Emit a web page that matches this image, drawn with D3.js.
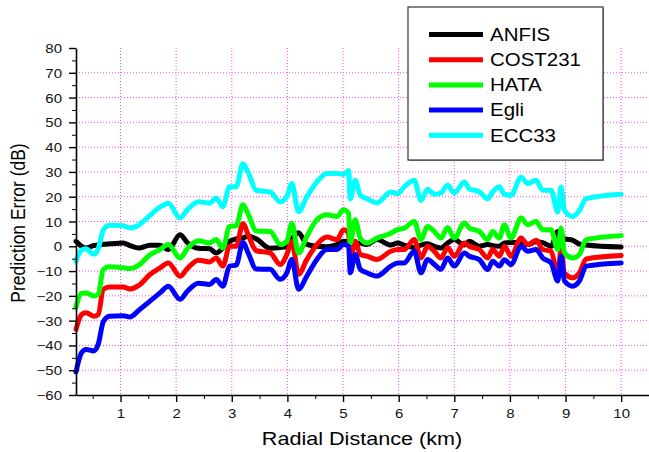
<!DOCTYPE html>
<html>
<head>
<meta charset="utf-8">
<script src="https://cdn.jsdelivr.net/npm/d3@7"></script>
<style>
  body { margin: 0; background: #fff; }
  text { font-family: 'Liberation Sans', Arial, sans-serif; }
</style>
</head>
<body>
<div id="chart"></div>
<script>
// Data (km, dB)
const distance = [0.2, 0.3, 0.38, 0.52, 0.6, 0.69, 0.8, 1.05, 1.17, 1.33, 1.53, 1.71, 1.86,
  2.07, 2.2, 2.4, 2.6, 2.72, 2.84, 2.96, 3.08, 3.2, 3.3, 3.44, 3.69, 3.87, 3.99,
  4.08, 4.2, 4.35, 4.53, 4.71, 4.89, 5.01, 5.1, 5.13, 5.22, 5.31, 5.43, 5.61, 5.86, 5.98,
  6.1, 6.28, 6.4, 6.52, 6.64, 6.76, 6.88, 7.0, 7.18, 7.27, 7.45, 7.6, 7.69, 7.81, 7.9,
  8.02, 8.2, 8.32, 8.47, 8.59, 8.74, 8.86, 8.92, 8.98, 9.13, 9.25, 9.37, 10.0]

const anfis = [2, 0, -0.7, 0.3, 0.5, 0.8, 1, 1.3, 0.3, -0.7, 0.4, 0.4, -1.3,
  4.7, 1.5, -0.8, -1, -2.7, -0.7, 2, 3, 3.4, 4, 3, -0.8, -0.5, 0,
  3, 5.5, 0.8, 0, -0.2, 0.7, 2, 1.5, 0, 0.5, 1.3, 0.7, 2.7, 0.5, 1.3,
  0.5, -0.5, 0.5, 1, 0, -0.7, 1.3, 2.7, 0.5, 2, 0, 0.7, 0.3, 0, 1.3,
  1.5, 1.5, 0.7, 1.8, 1.5, 0, 6, 4.7, 3, 2.4, 0.9, 0.5, -0.3]

const cost231 = [-33.5, -27.5, -26.8, -28.2, -27.5, -17.4, -16.4, -16.4, -17.2, -15.8, -11.4, -8.7, -6.7,
  -12.1, -9, -5.6, -6.3, -4.7, -8, 0, 0, 9.1, 4.3, -1.8, -2.7, -7.3, -3.3,
  2, -11.3, -5.3, 0.7, 3.7, 2.7, 6.7, 5.3, -5.3, 2, -3.3, -4, -5.3, -2, -1.3,
  -1.3, 2.7, -4.7, 0, -2, -4.7, -0.5, -4, 1.3, 0, -1.3, -4.7, -1.3, -4, 0,
  -4, 3.3, 0.7, 2.4, -1.3, -2, -11.4, -1.3, -10.7, -12.7, -10.7, -5.1, -3.7]

const hata = [-24.5, -19, -18.8, -20.1, -19.4, -9.4, -8.3, -8.7, -9, -7.6, -3.4, -1.3, 0.7,
  -4.7, -1, 2.2, 1.3, 2.7, -0.7, 8, 8.3, 16.8, 12.7, 6.2, 6, 0.7, 2,
  9.3, -2.7, 4, 10.7, 12.7, 12, 14.7, 13.3, 1.3, 10.7, 3.3, 1.3, 3.3, 5.3, 6.7,
  7.3, 10, 2.7, 8, 6, 3.3, 7.6, 3.3, 9.4, 7.4, 6, 2.7, 6, 3.3, 8.7,
  3.3, 11.4, 8.7, 10, 6.7, 6.7, -1.3, 7.4, -2.7, -4.7, -3.3, 2.7, 4.3]

const egli = [-50.7, -42.9, -41.6, -42.2, -39.5, -30.5, -28.2, -28, -28.5, -25.8, -22.1, -18.8, -16.1,
  -21.4, -18.2, -14.9, -15.4, -13.4, -16.1, -8, -7.6, 1.5, -3, -9.2, -9.3, -13.3, -10.7,
  -5.3, -17.3, -12, -5.3, -1.3, -1.3, 0.7, 0, -10.7, -3.3, -9.3, -10.7, -12, -8, -6.7,
  -6.7, -2, -10.7, -5.3, -7.3, -9.3, -4.7, -8, -2.7, -4, -5.4, -9.4, -6, -8, -5.4,
  -7.4, 0, -2, -1.3, -4.7, -6.7, -14, -4, -14, -16.1, -14, -8, -6.7]

const ecc33 = [-6, -1.5, -1, -3.2, -1, 6.5, 8.5, 8.3, 7.4, 8.6, 12.5, 15.8, 17.4,
  11.4, 14.7, 18, 17.4, 19.4, 16, 24, 24, 33.3, 29.5, 22.6, 21.9, 17.9, 20,
  25.3, 14, 20, 26, 29.4, 29.4, 29, 30.6, 19.2, 26.6, 20.6, 19.2, 17.5, 21.9, 21.2,
  24, 26.6, 18.5, 23, 21, 21.5, 24.6, 21.5, 25.9, 23.2, 22, 19.2, 21.9, 24, 21,
  20.6, 27.9, 25.3, 26.6, 22.6, 22.6, 13.8, 23.9, 14.5, 12, 14.5, 19.2, 21]

const seriesNames = ['ANFIS', 'COST231', 'HATA', 'Egli', 'ECC33']
const seriesValues = [anfis, cost231, hata, egli, ecc33]
const seriesColors = ['#000000', '#ff0000', '#00ff00', '#0000ff', '#00ffff']

const xTicks = [1, 2, 3, 4, 5, 6, 7, 8, 9, 10]
const yTicks = [-60, -50, -40, -30, -20, -10, 0, 10, 20, 30, 40, 50, 60, 70, 80]

// Dimensions
const width = 649
const height = 452
const plot = { left: 76, right: 649, top: 48, bottom: 395 }
const stretch = 1.2

const svg = d3.select('#chart')
  .append('svg')
  .attr('width', width)
  .attr('height', height)

// Scales
const xScale = d3.scaleLinear()
  .domain([0.2, 10.5])
  .range([plot.left, plot.right])

const yScale = d3.scaleLinear()
  .domain([-60, 80])
  .range([plot.bottom, plot.top])

// Grid
const grid = svg.append('g')
grid.selectAll('.vgrid')
  .data(xTicks)
  .join('line')
  .attr('x1', d => xScale(d))
  .attr('x2', d => xScale(d))
  .attr('y1', plot.top)
  .attr('y2', plot.bottom)
  .attr('stroke', '#ff44ff')
  .attr('stroke-width', 1)
  .attr('stroke-dasharray', '1,2')

grid.selectAll('.hgrid')
  .data(yTicks.filter(d => d > -60 && d < 80))
  .join('line')
  .attr('x1', plot.left)
  .attr('x2', plot.right)
  .attr('y1', d => yScale(d))
  .attr('y2', d => yScale(d))
  .attr('stroke', '#ff44ff')
  .attr('stroke-width', 1)
  .attr('stroke-dasharray', '1,2')

// Lines
const lineGenerator = d3.line()
  .x((d, i) => xScale(distance[i]))
  .y(d => yScale(d))
  .curve(d3.curveMonotoneX)

seriesValues.forEach((vals, i) => {
  svg.append('path')
    .datum(vals)
    .attr('d', lineGenerator)
    .attr('fill', 'none')
    .attr('stroke', seriesColors[i])
    .attr('stroke-width', 5)
    .attr('stroke-linejoin', 'round')
    .attr('stroke-linecap', 'round')
})

// Axes
const xMinor = d3.axisBottom(xScale)
  .tickValues(d3.range(0.5, 10.51, 1))
  .tickSize(4)
  .tickFormat('')
svg.append('g')
  .attr('transform', `translate(0,${plot.bottom})`)
  .call(xMinor)
  .call(g => g.select('.domain').remove())

const xAxis = d3.axisBottom(xScale)
  .tickValues(xTicks)
  .tickSize(7)
  .tickSizeOuter(0)
const xAxisGroup = svg.append('g')
  .attr('transform', `translate(0,${plot.bottom})`)
  .call(xAxis)
xAxisGroup.select('.domain').attr('stroke-width', 1.6)
xAxisGroup.selectAll('.tick line').attr('stroke-width', 1.4)
xAxisGroup.selectAll('.tick text')
  .attr('y', 23)
  .attr('dy', null)
  .attr('font-size', 12.5)
  .attr('fill', '#111')
  .attr('transform', `scale(${stretch},1)`)

const yMinor = d3.axisLeft(yScale)
  .tickValues(d3.range(-55, 80, 10))
  .tickSize(4)
  .tickFormat('')
svg.append('g')
  .attr('transform', `translate(${plot.left},0)`)
  .call(yMinor)
  .call(g => g.select('.domain').remove())

const yAxis = d3.axisLeft(yScale)
  .tickValues(yTicks)
  .tickSize(7)
  .tickSizeOuter(0)
const yAxisGroup = svg.append('g')
  .attr('transform', `translate(${plot.left},0)`)
  .call(yAxis)
yAxisGroup.select('.domain').attr('stroke-width', 1.6)
yAxisGroup.selectAll('.tick line').attr('stroke-width', 1.4)
yAxisGroup.selectAll('.tick text')
  .attr('x', -14 / stretch)
  .attr('dy', '0.36em')
  .attr('font-size', 12.5)
  .attr('fill', '#111')
  .attr('transform', `scale(${stretch},1)`)

// Axis titles
svg.append('text')
  .attr('transform', `translate(362,445) scale(${stretch},1)`)
  .attr('text-anchor', 'middle')
  .attr('font-size', 18)
  .text('Radial Distance (km)')

svg.append('text')
  .attr('transform', `translate(25,223) rotate(-90) scale(1,${stretch})`)
  .attr('text-anchor', 'middle')
  .attr('font-size', 17.5)
  .text('Prediction Error (dB)')

// Legend
const legend = svg.append('g')
legend.append('rect')
  .attr('x', 409)
  .attr('y', 8)
  .attr('width', 195)
  .attr('height', 153)
  .attr('fill', '#999')
legend.append('rect')
  .attr('x', 408)
  .attr('y', 7)
  .attr('width', 195)
  .attr('height', 153)
  .attr('fill', '#fff')
  .attr('stroke', '#333')
  .attr('stroke-width', 1.2)

const rows = legend.selectAll('.row')
  .data(seriesNames)
  .join('g')
  .attr('transform', (d, i) => `translate(0,${34.5 + i * 25.2})`)

rows.append('line')
  .attr('x1', 429)
  .attr('x2', 483)
  .attr('stroke', (d, i) => seriesColors[i])
  .attr('stroke-width', 5)

rows.append('text')
  .attr('transform', `translate(490,6.3) scale(1.17,1)`)
  .attr('font-size', 17.5)
  .text(d => d)
</script>
</body>
</html>
